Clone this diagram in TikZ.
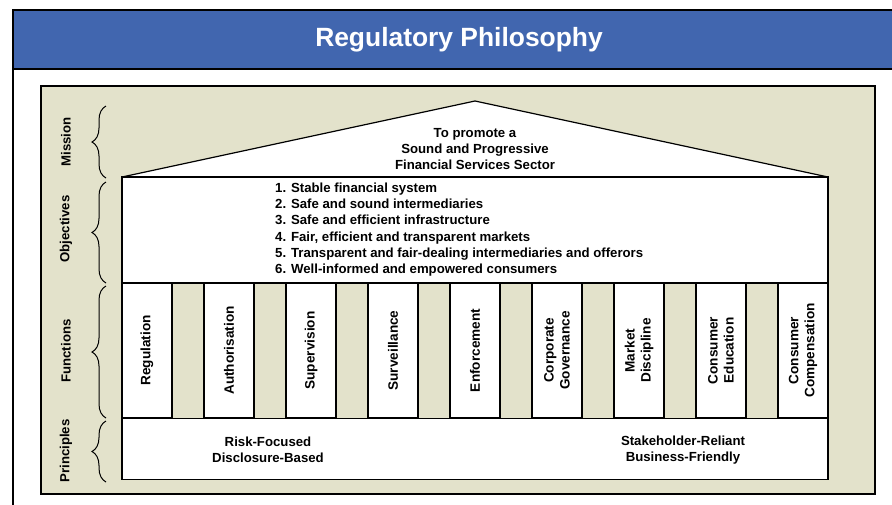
\documentclass[tikz,border=0pt]{standalone}
\usepackage{fontspec}
\setmainfont{Liberation Sans}
\usetikzlibrary{decorations.pathreplacing}
\definecolor{titleblue}{HTML}{4166AF}
\definecolor{sand}{HTML}{E3E2CB}

\begin{document}
\begin{tikzpicture}[x=1pt, y=-1pt,
    frame/.style={draw=black, line width=1.6pt},
    wbox/.style={draw=black, fill=white, line width=1.2pt, inner sep=0pt, minimum width=706pt},
    col/.style={draw=black, fill=white, line width=1.2pt, rotate=90, inner sep=0pt,
      minimum width=135pt, minimum height=50pt, align=center, font=\bfseries\fontsize{13.6}{16}\selectfont},
    txt/.style={align=center, font=\bfseries\fontsize{13.2}{16.2}\selectfont},
    side/.style={rotate=90, font=\bfseries\fontsize{13.2}{15}\selectfont},
    brc/.style={decorate, decoration={brace, amplitude=14pt}, line width=1pt}]
  \useasboundingbox (0,0) rectangle (892,504);
  % frame and title
  \draw[frame, fill=white] (13,10) rectangle (910,530);
  \draw[frame, fill=titleblue] (13,10) rectangle (910,69);
  \node[text=white, font=\bfseries\fontsize{26.4}{30}\selectfont] (title) at (459,40) {Regulatory Philosophy};
  \draw[fill=sand, line width=1.2pt] (41,86) rectangle (875,494);
  % roof
  \draw[fill=white, line width=1.2pt, line join=bevel] (122,177) -- (475,101) -- (828,177) -- cycle;
  \node[txt] (mission) at (475,149) {To promote a\\Sound and Progressive\\Financial Services Sector};
  % objectives
  \node[wbox, minimum height=106pt] (objbox) at (475,230) {};
  \node[txt, align=left, anchor=west, inner sep=0pt] (objtext) at (275,229.5)
    {1. Stable financial system\\
     2. Safe and sound intermediaries\\
     3. Safe and efficient infrastructure\\
     4. Fair, efficient and transparent markets\\
     5. Transparent and fair-dealing intermediaries and offerors\\
     6. Well-informed and empowered consumers};
  % pillars
  \foreach \i/\name/\lbl in {0/reg/Regulation, 1/auth/Authorisation, 2/sup/Supervision,
      3/surv/Surveillance, 4/enf/Enforcement, 5/corp/Corporate\\Governance,
      6/mkt/Market\\Discipline, 7/edu/Consumer\\Education, 8/comp/Consumer\\Compensation}
    \node[col] (\name) at (147+82*\i,350.5) {\lbl};
  % principles
  \node[wbox, minimum height=61pt] (princ) at (475,449) {};
  \node[txt] (risk) at (268,450) {Risk-Focused\\Disclosure-Based};
  \node[txt] (stake) at (683,450) {Stakeholder-Reliant\\Business-Friendly};
  % braces on the left
  \draw[brc] (106,178) -- (106,106);
  \draw[brc] (106,283) -- (106,182);
  \draw[brc] (106,418) -- (106,286);
  \draw[brc] (106,482) -- (106,421);
  \node[side] (lmission) at (66,142) {Mission};
  \node[side] (lobj) at (66,229) {Objectives};
  \node[side] (lfunc) at (66,351) {Functions};
  \node[side] (lprinc) at (66,451) {Principles};
\end{tikzpicture}
\end{document}
